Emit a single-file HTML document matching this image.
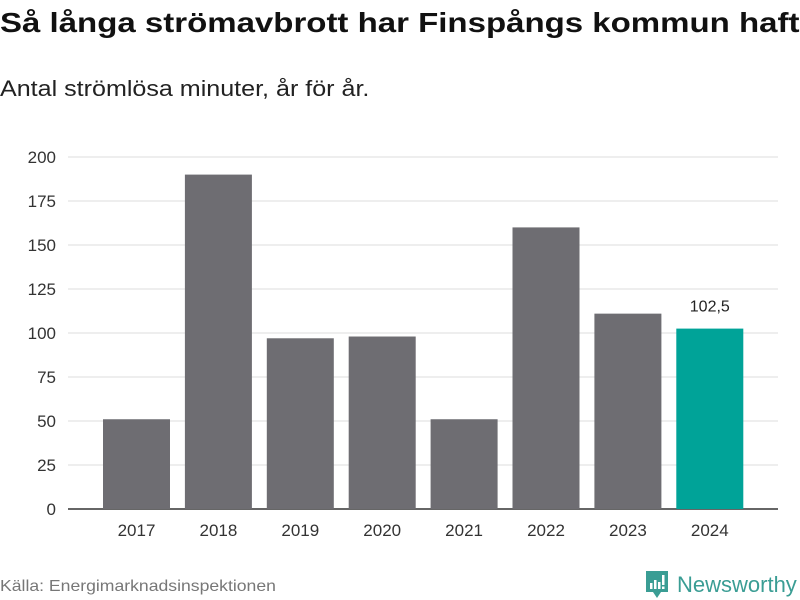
<!DOCTYPE html>
<html><head><meta charset="utf-8"><style>
body{margin:0;width:800px;height:600px;background:#fff;font-family:"Liberation Sans",sans-serif;overflow:hidden;position:relative}
</style></head><body>
<div style="position:absolute;left:0;top:7px;font-size:27.5px;font-weight:bold;color:#111;white-space:nowrap;transform-origin:0 0;transform:scaleX(1.2)">Så långa strömavbrott har Finspångs kommun haft</div>
<div style="position:absolute;left:0;top:76px;font-size:22px;color:#222;white-space:nowrap;transform-origin:0 0;transform:scaleX(1.14)">Antal strömlösa minuter, år för år.</div>
<svg id="c" width="800" height="600" style="position:absolute;left:0;top:0"></svg>
<div style="position:absolute;left:0;top:578px;font-size:16px;color:#777;white-space:nowrap;transform-origin:0 0;transform:scaleX(1.1)">Källa: Energimarknadsinspektionen</div>
<div style="position:absolute;left:645px;top:570px;display:flex;align-items:center">
<svg width="24" height="30" viewBox="0 0 24 30"><path d="M1 1h22v21h-7l-4 6-4-6H1z" fill="#3a9d94"/><rect x="5" y="13" width="2.5" height="6" fill="#fff"/><rect x="9" y="10" width="2.5" height="9" fill="#fff"/><rect x="13" y="12" width="2.5" height="7" fill="#fff"/><rect x="17" y="5" width="2.5" height="10" fill="#fff"/><rect x="17" y="16.5" width="2.5" height="2.5" fill="#fff"/></svg>
<span style="font-size:22px;color:#3a9d94;margin-left:8px">Newsworthy</span></div>
<script>
const categories=["2017","2018","2019","2020","2021","2022","2023","2024"];
const values=[51,190,97,98,51,160,111,102.5];
const yTicks=[0,25,50,75,100,125,150,175,200];
const ns="http://www.w3.org/2000/svg";
const svg=document.getElementById('c');
const y=v=>509-v*1.76;
const x=i=>136.5+i*81.9;
function mk(t,a){const e=document.createElementNS(ns,t);for(const k in a)e.setAttribute(k,a[k]);svg.appendChild(e);return e;}
yTicks.forEach(t=>{
 const l=mk('line',{x1:68,x2:778,y1:y(t),y2:y(t),stroke:t===0?'#333':'#ddd','stroke-width':t===0?1.5:1});
 
 
 const tx=mk('text',{x:56,y:y(t)+6,'text-anchor':'end','font-size':17,fill:'#333','font-family':'Liberation Sans'});
 tx.textContent=t;
 
 
});
categories.forEach((c,i)=>{
 const last=i===categories.length-1;
 const r=mk('rect',{x:x(i)-33.5,y:y(values[i]),width:67,height:509-y(values[i]),fill:last?'#00a398':'#6e6d72'});
 
 
 const tx=mk('text',{x:x(i),y:536,'text-anchor':'middle','font-size':17,fill:'#333','font-family':'Liberation Sans'});
 tx.textContent=c;
 
 
 if(last){
  const v=mk('text',{x:x(i),y:y(values[i])-17,'text-anchor':'middle','font-size':16,fill:'#222','font-family':'Liberation Sans'});
  v.textContent=String(values[i]).replace('.',',');
  
  
 }
});
</script>
</body></html>
